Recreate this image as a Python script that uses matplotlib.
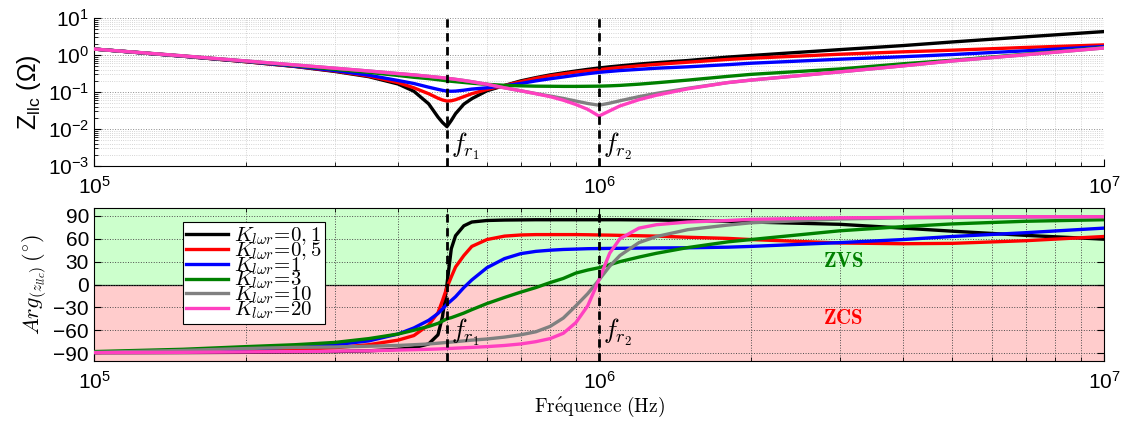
import matplotlib
matplotlib.use('Agg')
import matplotlib.pyplot as plt
from matplotlib.ticker import LogLocator, NullFormatter

plt.rcParams['font.family'] = ['Liberation Sans', 'DejaVu Sans']
plt.rcParams['mathtext.fontset'] = 'custom'
plt.rcParams['mathtext.rm'] = 'Liberation Sans'
plt.rcParams['mathtext.it'] = 'Liberation Sans:italic'
plt.rcParams['mathtext.bf'] = 'Liberation Sans:bold'

freq = [1e5, 1.5e5, 2e5, 2.5e5, 3e5, 3.5e5, 4e5, 4.3e5, 4.6e5, 4.8e5, 4.9e5, 5e5,
        5.1e5, 5.2e5, 5.4e5, 5.6e5, 6e5, 6.5e5, 7e5, 7.5e5, 8e5, 8.5e5, 9e5, 9.5e5,
        1e6, 1.05e6, 1.1e6, 1.2e6, 1.3e6, 1.5e6, 1.8e6, 2e6, 3e6, 4e6, 5e6, 7e6, 1e7]

labels = [r'$K_{l\omega r}\!=\!0,1$', r'$K_{l\omega r}\!=\!0,5$', r'$K_{l\omega r}\!=\!1$',
          r'$K_{l\omega r}\!=\!3$', r'$K_{l\omega r}\!=\!10$', r'$K_{l\omega r}\!=\!20$']

# |Z_llc| (ohm)
z_k01 = [1.45, 0.93, 0.66, 0.49, 0.36, 0.26, 0.165, 0.105, 0.048, 0.021, 0.015, 0.0116,
         0.017, 0.026, 0.047, 0.066, 0.108, 0.15, 0.2, 0.245, 0.29, 0.33, 0.37, 0.41,
         0.446, 0.48, 0.51, 0.57, 0.62, 0.71, 0.88, 0.97, 1.4, 1.8, 2.25, 3.1, 4.3]
z_k05 = [1.45, 0.93, 0.66, 0.495, 0.37, 0.27, 0.18, 0.13, 0.09, 0.068, 0.061, 0.057,
         0.058, 0.062, 0.075, 0.09, 0.117, 0.15, 0.19, 0.235, 0.275, 0.31, 0.345, 0.375,
         0.40, 0.43, 0.46, 0.51, 0.56, 0.64, 0.76, 0.82, 1.05, 1.22, 1.35, 1.6, 1.88]
z_k1 = [1.45, 0.93, 0.67, 0.5, 0.38, 0.285, 0.205, 0.17, 0.135, 0.118, 0.111, 0.106,
        0.105, 0.106, 0.112, 0.12, 0.13, 0.148, 0.17, 0.2, 0.228, 0.255, 0.285, 0.313,
        0.34, 0.36, 0.38, 0.41, 0.44, 0.48, 0.55, 0.6, 0.77, 0.9, 1.03, 1.3, 1.7]
z_k3 = [1.45, 0.94, 0.68, 0.52, 0.41, 0.34, 0.28, 0.25, 0.23, 0.215, 0.208, 0.2,
        0.195, 0.19, 0.181, 0.173, 0.161, 0.152, 0.147, 0.144, 0.143, 0.142, 0.142, 0.143,
        0.144, 0.147, 0.151, 0.163, 0.178, 0.21, 0.265, 0.3, 0.42, 0.58, 0.72, 1.05, 1.6]
z_k10 = [1.45, 0.95, 0.69, 0.54, 0.44, 0.37, 0.315, 0.29, 0.265, 0.25, 0.243, 0.235,
         0.228, 0.22, 0.205, 0.19, 0.162, 0.13, 0.108, 0.091, 0.078, 0.067, 0.057, 0.049,
         0.044, 0.05, 0.058, 0.075, 0.092, 0.126, 0.18, 0.21, 0.35, 0.51, 0.69, 1.02, 1.55]
z_k20 = [1.45, 0.95, 0.69, 0.54, 0.44, 0.37, 0.315, 0.29, 0.265, 0.25, 0.243, 0.235,
         0.228, 0.22, 0.205, 0.19, 0.162, 0.13, 0.108, 0.09, 0.075, 0.06, 0.046, 0.034,
         0.0224, 0.031, 0.042, 0.062, 0.082, 0.122, 0.18, 0.21, 0.35, 0.51, 0.69, 1.02, 1.55]

# Arg(Z_llc) (degrees)
ph_k01 = [-89.5, -89.3, -89, -88.5, -88, -87, -85, -83, -78, -66, -42, 0,
          47, 64, 77, 82, 84, 84.6, 84.8, 85, 85, 85, 85, 85,
          85, 85, 85, 84.8, 84.6, 84, 83, 82, 79, 74, 70, 64.5, 59.5]
ph_k05 = [-89, -88, -86.5, -85, -83, -79, -73, -67, -53, -37, -21, -4,
          10, 23, 38, 50, 59, 63.5, 65, 65.5, 65.5, 65.5, 65.5, 65.3,
          65, 64.8, 64.5, 64, 63.5, 62, 60.5, 59, 54.5, 53.5, 54, 57.5, 63]
ph_k1 = [-89, -87, -84.5, -82, -79, -74, -65, -57, -47, -38, -32, -26,
         -21, -16, -4, 6, 22, 34, 40.5, 43.5, 45, 46, 46.5, 47,
         47.2, 47.4, 47.5, 47.8, 48, 48.2, 49, 50, 55, 59, 63, 68, 74]
ph_k3 = [-88, -85, -81.5, -79, -76, -71, -65, -60, -55, -51, -48, -45,
         -43.5, -41.5, -37.5, -33, -25, -17, -10, -4, 2.5, 8, 15, 19,
         22, 26, 30, 36, 41, 48.5, 56, 59, 70.5, 76, 79.5, 83, 85]
ph_k10 = [-89, -86.5, -84, -82.5, -82, -81, -80, -79, -78, -77, -76.5, -76,
          -75.5, -75, -74, -73, -71.5, -69, -66, -62, -55, -44, -28, -12,
          6, 24, 38, 55, 63, 72, 78, 81, 86, 87.5, 88, 88.5, 89]
ph_k20 = [-89.5, -89, -88.5, -88, -87.5, -87, -86, -85.5, -85, -84.6, -84.3, -84,
          -83.8, -83.5, -83, -82.5, -81.5, -80, -78, -75, -71, -64, -50, -28,
          6, 41, 60, 74, 78.5, 82, 84, 85.5, 87.5, 88, 88.5, 89, 89]

fr1 = 5e5
fr2 = 1e6

mags = [z_k01, z_k05, z_k1, z_k3, z_k10, z_k20]
phases = [ph_k01, ph_k05, ph_k1, ph_k3, ph_k10, ph_k20]
colors = ['k', '#ff0000', '#0000ff', '#008000', '#808080', '#ff40c0']

fig = plt.figure(figsize=(11.28, 4.28), dpi=100)
ax1 = fig.add_axes([0.0833, 0.6121, 0.8954, 0.3458])
ax2 = fig.add_axes([0.0833, 0.1572, 0.8954, 0.3561])

# ---- magnitude ----
for z, c in zip(mags, colors):
    ax1.plot(freq, z, color=c, lw=2.4, zorder=3)
ax1.set_xscale('log')
ax1.set_yscale('log')
ax1.set_xlim(1e5, 1e7)
ax1.set_ylim(1e-3, 1e1)
ax1.set_xticks([1e5, 1e6, 1e7])
ax1.set_yticks([1e-3, 1e-2, 1e-1, 1e0, 1e1])
for axis in (ax1.xaxis, ax1.yaxis):
    axis.set_minor_locator(LogLocator(base=10, subs=range(2, 10), numticks=30))
    axis.set_minor_formatter(NullFormatter())
ax1.spines['top'].set_visible(False)
ax1.spines['right'].set_visible(False)
ax1.tick_params(which='both', direction='in', top=False, right=False, labelsize=15)
ax1.tick_params(axis='x', which='both', pad=7)
ax1.tick_params(which='major', length=5)
ax1.tick_params(which='minor', length=3)
ax1.grid(which='major', ls=':', color='0.55', lw=0.7)
ax1.grid(which='minor', ls=':', color='0.78', lw=0.6)
ax1.set_axisbelow(True)
ax1.axvline(fr1, color='k', ls='--', lw=2, dashes=(3, 2), zorder=4)
ax1.axvline(fr2, color='k', ls='--', lw=2, dashes=(3, 2), zorder=4)
ax1.text(fr1 * 1.02, 1.25e-3, r'$f_{r_1}$', fontsize=19, math_fontfamily='cm',
         ha='left', va='bottom')
ax1.text(fr2 * 1.02, 1.25e-3, r'$f_{r_2}$', fontsize=19, math_fontfamily='cm',
         ha='left', va='bottom')
ax1.set_ylabel(r'Z$_{\mathregular{llc}}$ (Ω)', fontsize=18)
ax1.yaxis.set_label_coords(-0.05, 0.5)

# ---- phase ----
ax2.axhspan(0, 100, color='#ccffcc', lw=0, zorder=0)
ax2.axhspan(-100, 0, color='#ffcccc', lw=0, zorder=0)
ax2.axhline(0, color='k', lw=0.9, zorder=1)
for ph, c, lab in zip(phases, colors, labels):
    ax2.plot(freq, ph, color=c, lw=2.4, label=lab, zorder=3)
ax2.set_xscale('log')
ax2.set_xlim(1e5, 1e7)
ax2.set_ylim(-100, 100)
ax2.set_xticks([1e5, 1e6, 1e7])
ax2.xaxis.set_minor_locator(LogLocator(base=10, subs=range(2, 10), numticks=30))
ax2.xaxis.set_minor_formatter(NullFormatter())
ax2.set_yticks(range(-90, 91, 30))
ax2.tick_params(which='both', direction='in', top=True, right=True, labelsize=15)
ax2.tick_params(axis='x', which='both', pad=7)
ax2.tick_params(which='major', length=5)
ax2.tick_params(which='minor', length=3)
ax2.grid(which='major', ls=':', color='0.3', lw=0.7, zorder=1)
ax2.grid(which='minor', axis='x', ls=':', color='0.3', lw=0.7, zorder=1)
ax2.axvline(fr1, color='k', ls='--', lw=2, dashes=(3, 2), zorder=4)
ax2.axvline(fr2, color='k', ls='--', lw=2, dashes=(3, 2), zorder=4)
ax2.text(fr1 * 1.02, -83, r'$f_{r_1}$', fontsize=19, math_fontfamily='cm',
         ha='left', va='bottom', zorder=5)
ax2.text(fr2 * 1.02, -83, r'$f_{r_2}$', fontsize=19, math_fontfamily='cm',
         ha='left', va='bottom', zorder=5)
ax2.text(3.05e6, 30, r'$\mathbf{ZVS}$', fontsize=15, math_fontfamily='cm',
         color='#008000', ha='center', va='center')
ax2.text(3.05e6, -44, r'$\mathbf{ZCS}$', fontsize=15, math_fontfamily='cm',
         color='#ff0000', ha='center', va='center')
ax2.set_ylabel(r'$Arg_{(z_{llc})}\,(^{\circ})$', fontsize=16, math_fontfamily='cm')
ax2.yaxis.set_label_coords(-0.045, 0.5)
ax2.set_xlabel(r'$\mathrm{Fr\acute{e}quence\ (Hz)}$', fontsize=14, math_fontfamily='cm',
               labelpad=2)

leg = ax2.legend(loc='upper left', bbox_to_anchor=(0.088, 0.91), fontsize=15,
                 frameon=True, fancybox=False, edgecolor='k', framealpha=1,
                 borderaxespad=0, handlelength=2.0, handletextpad=0.3,
                 labelspacing=-0.33, borderpad=0.15)
leg.get_frame().set_linewidth(0.8)
leg.set_zorder(6)
for t in leg.get_texts():
    t.set_math_fontfamily('cm')

plt.savefig('out.png', dpi=100)
